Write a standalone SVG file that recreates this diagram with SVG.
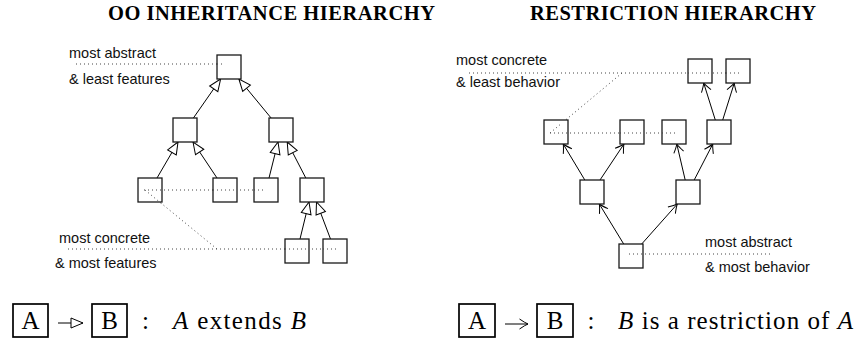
<svg xmlns="http://www.w3.org/2000/svg" width="857" height="339" viewBox="0 0 857 339">
<style>
.box{fill:#fff;stroke:#1a1a1a;stroke-width:1.3}
.lbox{fill:#fff;stroke:#000;stroke-width:1.7}
.edge{fill:none;stroke:#000;stroke-width:1}
.inh{marker-end:url(#tri)}
.res{marker-end:url(#to)}
.dot{fill:none;stroke:#444;stroke-width:1;stroke-dasharray:1 3}
.title{font-family:"Liberation Serif",serif;font-weight:bold;font-size:20.5px;fill:#000}
.lab{font-family:"Liberation Sans",Arial,sans-serif;font-size:14.5px;fill:#111}
.leg{font-family:"Liberation Serif",serif;font-size:25px;fill:#000}
.it{font-style:italic}
</style>
<defs>
<marker id="tri" markerUnits="userSpaceOnUse" markerWidth="20" markerHeight="20" viewBox="-15 -10 20 20" refX="0" refY="0" orient="auto" overflow="visible">
<path d="M0,0 L-12,-5 L-12,5 Z" fill="#fff" stroke="#000" stroke-width="1" stroke-linejoin="miter"/>
</marker>
<marker id="to" markerUnits="userSpaceOnUse" markerWidth="20" markerHeight="20" viewBox="-15 -10 20 20" refX="0" refY="0" orient="auto" overflow="visible">
<path d="M-8.5,-5 Q-3,-1.2 0,0 Q-3,1.2 -8.5,5" fill="none" stroke="#000" stroke-width="1"/>
</marker>
</defs>

<text class="title" x="108" y="20" textLength="327" lengthAdjust="spacing">OO INHERITANCE HIERARCHY</text>
<text class="title" x="530" y="20" textLength="286" lengthAdjust="spacing">RESTRICTION HIERARCHY</text>

<g id="guides">
<path class="dot" d="M76,64 H224"/>
<path class="dot" d="M144,190 H263"/>
<path class="dot" d="M145,190 L217,249"/>
<path class="dot" d="M68,249 H339"/>
<path class="dot" d="M469,73 H739"/>
<path class="dot" d="M622,73 L550,133"/>
<path class="dot" d="M550,133 H678"/>
<path class="dot" d="M629,254 H772"/>
</g>

<g id="labels">
<text class="lab" x="69" y="58">most abstract</text>
<text class="lab" x="69" y="84">&amp; least features</text>
<text class="lab" x="59" y="243">most concrete</text>
<text class="lab" x="55" y="268">&amp; most features</text>
<text class="lab" x="456" y="65">most concrete</text>
<text class="lab" x="456" y="87">&amp; least behavior</text>
<text class="lab" x="705" y="247">most abstract</text>
<text class="lab" x="705" y="272">&amp; most behavior</text>
</g>

<g id="connectors">
<path class="edge inh" d="M193.4,118 L220.6,79"/>
<path class="edge inh" d="M271.1,118 L238.9,79"/>
<path class="edge inh" d="M157,178 L178,142"/>
<path class="edge inh" d="M217,178 L193,142"/>
<path class="edge inh" d="M269,178 L278,142"/>
<path class="edge inh" d="M305.8,178 L287.2,142"/>
<path class="edge inh" d="M300,239 L309,202"/>
<path class="edge inh" d="M330.5,239 L316.5,202"/>
<path class="edge res" d="M623.7,244 L599.3,204"/>
<path class="edge res" d="M641.7,244 L677.3,204"/>
<path class="edge res" d="M584.8,180 L563.2,144"/>
<path class="edge res" d="M600,180 L624,144"/>
<path class="edge res" d="M685.2,180 L676.8,144"/>
<path class="edge res" d="M694.2,180 L712.8,144"/>
<path class="edge res" d="M715.3,120 L703.7,83"/>
<path class="edge res" d="M722.7,120 L734.3,83"/>
</g>

<g id="oo-root"><rect class="box" x="217" y="55" width="24" height="24"/></g>
<g id="oo-l2a"><rect class="box" x="173" y="118" width="24" height="24"/></g>
<g id="oo-l2b"><rect class="box" x="269" y="118" width="24" height="24"/></g>
<g id="oo-l3a"><rect class="box" x="138" y="178" width="24" height="24"/></g>
<g id="oo-l3b"><rect class="box" x="213" y="178" width="24" height="24"/></g>
<g id="oo-l3c"><rect class="box" x="254" y="178" width="24" height="24"/></g>
<g id="oo-l3d"><rect class="box" x="300" y="178" width="24" height="24"/></g>
<g id="oo-l4a"><rect class="box" x="285" y="239" width="24" height="24"/></g>
<g id="oo-l4b"><rect class="box" x="323" y="239" width="24" height="24"/></g>

<g id="rs-t1"><rect class="box" x="688" y="59" width="24" height="24"/></g>
<g id="rs-t2"><rect class="box" x="726" y="59" width="24" height="24"/></g>
<g id="rs-m1"><rect class="box" x="544" y="120" width="24" height="24"/></g>
<g id="rs-m2"><rect class="box" x="620" y="120" width="24" height="24"/></g>
<g id="rs-m3"><rect class="box" x="662" y="120" width="24" height="24"/></g>
<g id="rs-m4"><rect class="box" x="707" y="120" width="24" height="24"/></g>
<g id="rs-l1"><rect class="box" x="580" y="180" width="24" height="24"/></g>
<g id="rs-l2"><rect class="box" x="676" y="180" width="24" height="24"/></g>
<g id="rs-root"><rect class="box" x="619" y="244" width="24" height="24"/></g>

<g id="guides-over">
<path class="dot" d="M217,64 H224"/>
<path class="dot" d="M144,190 H162 M213,190 H237 M254,190 H263"/>
<path class="dot" d="M145,190 L162,204"/>
<path class="dot" d="M285,249 H309 M323,249 H339"/>
<path class="dot" d="M688,73 H712 M726,73 H739"/>
<path class="dot" d="M550,133 L562,123"/>
<path class="dot" d="M550,133 H568 M620,133 H644 M662,133 H678"/>
<path class="dot" d="M629,254 H643"/>
</g>

<g id="legend-left">
<rect class="lbox" x="13" y="304" width="35" height="33"/>
<text class="leg" x="30.5" y="329" text-anchor="middle">A</text>
<path class="edge inh" d="M58,323 L83,323"/>
<rect class="lbox" x="92" y="304" width="35" height="33"/>
<text class="leg" x="109.5" y="329" text-anchor="middle">B</text>
<text class="leg" x="145.5" y="329" text-anchor="middle">:</text>
<text class="leg" x="173" y="329" textLength="133" lengthAdjust="spacing"><tspan class="it">A</tspan> extends <tspan class="it">B</tspan></text>
</g>

<g id="legend-right">
<rect class="lbox" x="459" y="304" width="36" height="33"/>
<text class="leg" x="477" y="329" text-anchor="middle">A</text>
<path class="edge res" d="M505,324 L528,324"/>
<rect class="lbox" x="537" y="304" width="36" height="33"/>
<text class="leg" x="555" y="329" text-anchor="middle">B</text>
<text class="leg" x="591" y="329" text-anchor="middle">:</text>
<text class="leg" x="618" y="329" textLength="235" lengthAdjust="spacing"><tspan class="it">B</tspan> is a restriction of <tspan class="it">A</tspan></text>
</g>
</svg>
